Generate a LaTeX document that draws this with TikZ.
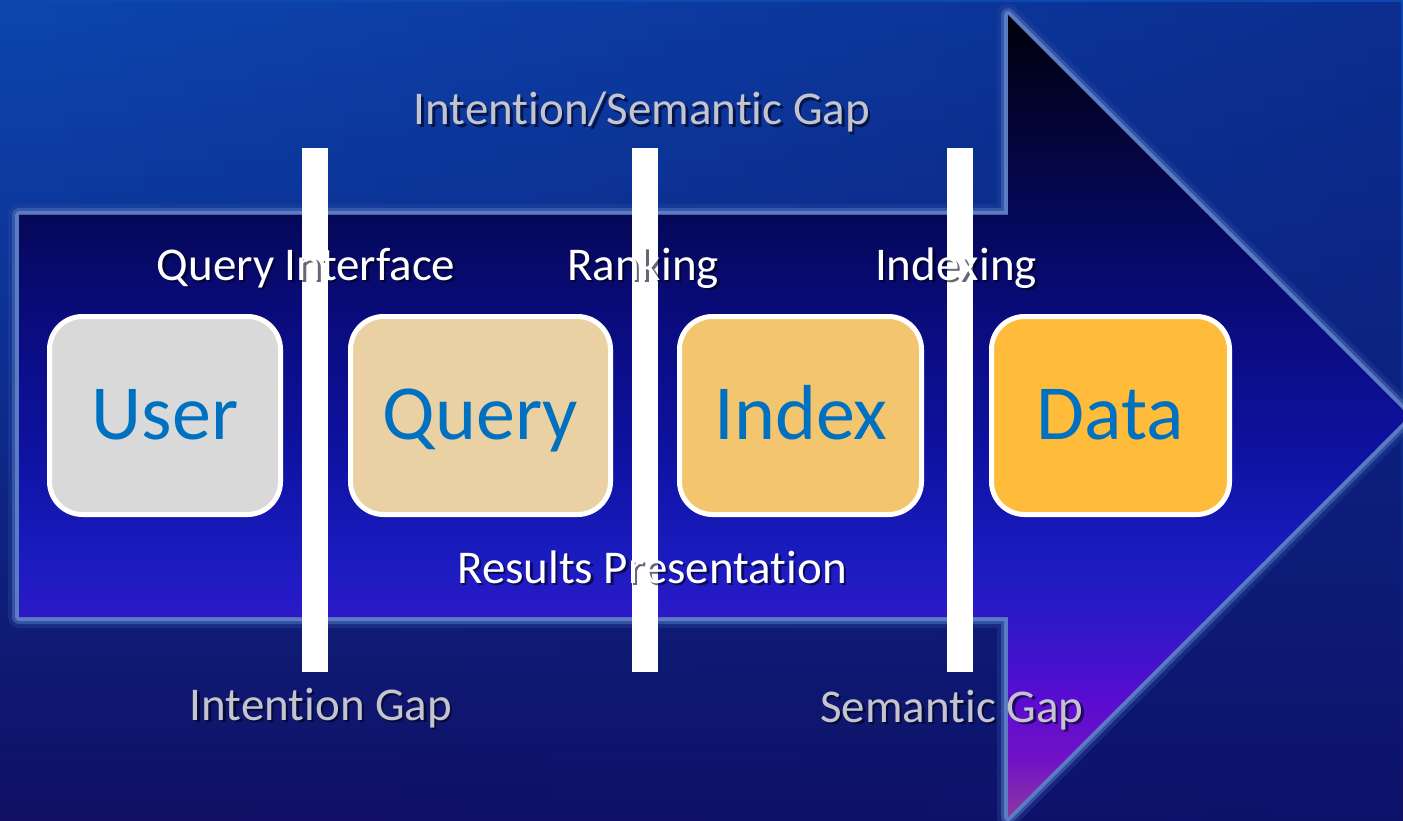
\documentclass[tikz,border=0pt]{standalone}
\usepackage{fontspec}
\setmainfont{Carlito}[RawFeature={-liga;-clig}]
\usetikzlibrary{fadings}
\definecolor{bgA}{HTML}{0D47B0}
\definecolor{bgB}{HTML}{0E2C8C}
\definecolor{bgC}{HTML}{110F64}
\definecolor{bgDark}{HTML}{0A1670}
\definecolor{glowA}{HTML}{2A4AA0}
\definecolor{glowB}{HTML}{4A6AB8}
\definecolor{glowC}{HTML}{5B7BC2}
\definecolor{ar0}{HTML}{00000A}
\definecolor{ar1}{HTML}{050858}
\definecolor{ar2}{HTML}{0A0C80}
\definecolor{ar3}{HTML}{0E12A0}
\definecolor{ar4}{HTML}{1A1CC0}
\definecolor{ar5}{HTML}{2E18C8}
\definecolor{ar6}{HTML}{5A0CD0}
\definecolor{ar7}{HTML}{7212C6}
\definecolor{ar8}{HTML}{8A3AA0}
\definecolor{userfill}{HTML}{D9D9D9}
\definecolor{queryfill}{HTML}{E9D1A4}
\definecolor{indexfill}{HTML}{F3C56E}
\definecolor{datafill}{HTML}{FFBC3A}
\definecolor{cardtext}{HTML}{0070C0}
\definecolor{gapgray}{HTML}{C4C4CC}
\definecolor{shadowcol}{HTML}{000018}
\begin{document}
\begin{tikzpicture}[x=1pt,y=-1pt,
  lbl/.style={anchor=base, inner sep=0pt, font=\fontsize{47}{56}\selectfont, text=white},
  gaplbl/.style={lbl, text=gapgray},
  shd/.style={anchor=base, inner sep=0pt, font=\fontsize{47}{56}\selectfont, text=shadowcol, opacity=0.6},
  card/.style={draw=white, line width=5pt, rounded corners=33pt, minimum height=198pt, inner sep=0pt},
  cardlbl/.style={anchor=base, inner sep=0pt, font=\fontsize{78}{90}\selectfont, text=cardtext},
  bar/.style={fill=white}]
\useasboundingbox (0,0) rectangle (1403,821);
% background
\shade[top color=bgA, bottom color=bgB] (0,0) rectangle (1403,411);
\shade[top color=bgB, bottom color=bgC] (0,410) rectangle (1403,821);
\fill[bgDark, opacity=0.5, path fading=west] (0,0) rectangle (1403,821);
% arrow
\def\arrowpath{(19,215) -- (1008,215) -- (1008,15) -- (1409,416) -- (1008,817) -- (1008,617) -- (19,617) -- cycle}
\draw[glowA, opacity=0.35, line width=22pt, line join=round] \arrowpath;
\draw[glowB, opacity=0.6, line width=14pt, line join=round] \arrowpath;
\draw[glowC, line width=8pt, line join=round] \arrowpath;
\begin{scope}
\clip \arrowpath;
\shade[top color=ar0, bottom color=ar1] (0,14) rectangle (1403,216);
\shade[top color=ar1, bottom color=ar2] (0,215) rectangle (1403,331);
\shade[top color=ar2, bottom color=ar3] (0,330) rectangle (1403,451);
\shade[top color=ar3, bottom color=ar4] (0,450) rectangle (1403,561);
\shade[top color=ar4, bottom color=ar5] (0,560) rectangle (1403,621);
\shade[top color=ar5, bottom color=ar6] (0,620) rectangle (1403,701);
\shade[top color=ar6, bottom color=ar7] (0,700) rectangle (1403,761);
\shade[top color=ar7, bottom color=ar8] (0,760) rectangle (1403,818);
\end{scope}
% white bars
\fill[bar] (302,148) rectangle (328,672);
\fill[bar] (632,148) rectangle (658,672);
\fill[bar] (947,148) rectangle (973,672);
% cards
\node[card, fill=userfill, minimum width=231pt] (user) at (165,415.5) {};
\node[card, fill=queryfill, minimum width=260pt] (query) at (480.5,415.5) {};
\node[card, fill=indexfill, minimum width=242pt] (index) at (800.5,415.5) {};
\node[card, fill=datafill, minimum width=238pt] (data) at (1110.5,415.5) {};
\node[cardlbl] (userT) at (165,439) {User};
\node[cardlbl] (queryT) at (480.5,439) {Query};
\node[cardlbl] (indexT) at (801,439) {Index};
\node[cardlbl] (dataT) at (1110.5,439) {Data};
% label shadows
\node[shd] (isgS) at (644.5,127.5) {Intention/Semantic Gap};
\node[shd] (qiS) at (308.5,282.5) {Query Interface};
\node[shd] (rkS) at (645.5,282.5) {Ranking};
\node[shd] (ixS) at (958.5,282.5) {Indexing};
\node[shd] (rpS) at (654.5,585.5) {Results Presentation};
\node[shd] (igS) at (323.5,722.5) {Intention Gap};
\node[shd] (sgS) at (954.5,724.5) {Semantic Gap};
% labels
\node[gaplbl] (isg) at (642,125) {Intention/Semantic Gap};
\node[lbl] (qi) at (306,280) {Query Interface};
\node[lbl] (rk) at (643,280) {Ranking};
\node[lbl] (ix) at (956,280) {Indexing};
\node[lbl] (rp) at (652,583) {Results Presentation};
\node[gaplbl] (ig) at (321,720) {Intention Gap};
\node[gaplbl] (sg) at (952,722) {Semantic Gap};
\end{tikzpicture}
\end{document}
